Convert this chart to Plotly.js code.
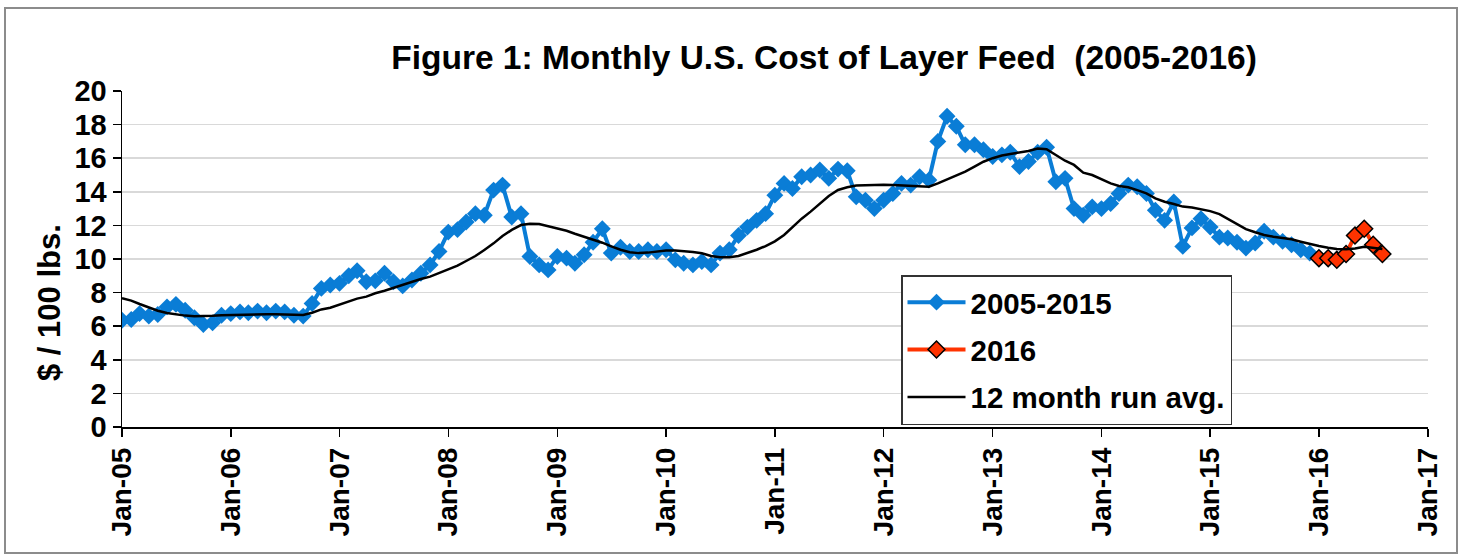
<!DOCTYPE html>
<html><head><meta charset="utf-8">
<script src="https://cdn.plot.ly/plotly-3.0.1.min.js"></script>
<style>html,body{margin:0;padding:0;background:#fff;} #chart{width:1463px;height:556px;}</style>
</head><body><div id="chart"></div>
<script>
// Monthly cost of layer feed ($ / 100 lbs.), Jan..Dec of each year
const feed2005 = [6.35, 6.4, 6.75, 6.6, 6.7, 7.15, 7.3, 6.95, 6.5, 6.1, 6.2, 6.65];
const feed2006 = [6.75, 6.85, 6.8, 6.9, 6.8, 6.9, 6.85, 6.65, 6.6, 7.35, 8.25, 8.45];
const feed2007 = [8.55, 9.0, 9.3, 8.65, 8.7, 9.15, 8.65, 8.4, 8.75, 9.15, 9.65, 10.45];
const feed2008 = [11.6, 11.75, 12.2, 12.7, 12.6, 14.1, 14.4, 12.5, 12.7, 10.15, 9.65, 9.35];
const feed2009 = [10.15, 10.05, 9.75, 10.25, 11.0, 11.8, 10.35, 10.7, 10.45, 10.45, 10.55, 10.45];
const feed2010 = [10.55, 9.95, 9.75, 9.65, 9.85, 9.65, 10.35, 10.55, 11.4, 11.9, 12.3, 12.7];
const feed2011 = [13.8, 14.5, 14.2, 14.9, 15.0, 15.3, 14.8, 15.35, 15.25, 13.7, 13.5, 13.0];
const feed2012 = [13.5, 13.9, 14.5, 14.4, 14.9, 14.7, 17.0, 18.5, 17.9, 16.8, 16.8, 16.5];
const feed2013 = [16.1, 16.2, 16.35, 15.5, 15.8, 16.35, 16.65, 14.6, 14.8, 13.0, 12.6, 13.1];
const feed2014 = [13.0, 13.3, 13.9, 14.4, 14.3, 13.9, 12.9, 12.3, 13.4, 10.75, 11.85, 12.4];
const feed2015 = [11.9, 11.3, 11.25, 11.0, 10.65, 10.95, 11.65, 11.3, 11.05, 10.85, 10.55, 10.35];
const feed2016 = [10.05, 10.05, 9.95, 10.3, 11.4, 11.8, 10.85, 10.3];

// 12 month running average
const avg2005 = [7.66, 7.52, 7.32, 7.12, 6.92, 6.79, 6.69, 6.63, 6.59, 6.59, 6.62, 6.65];
const avg2006 = [6.67, 6.69, 6.70, 6.71, 6.71, 6.71, 6.70, 6.67, 6.67, 6.80, 7.0, 7.1];
const avg2007 = [7.3, 7.46, 7.64, 7.76, 7.96, 8.11, 8.29, 8.45, 8.65, 8.81, 8.95, 9.15];
const avg2008 = [9.35, 9.6, 9.88, 10.18, 10.54, 10.93, 11.37, 11.73, 12.02, 12.1, 12.08, 11.96];
const avg2009 = [11.8, 11.68, 11.5, 11.33, 11.17, 10.97, 10.75, 10.55, 10.4, 10.35, 10.38, 10.46];
const avg2010 = [10.5, 10.5, 10.48, 10.42, 10.34, 10.18, 10.1, 10.1, 10.18, 10.34, 10.55, 10.77];
const avg2011 = [11.05, 11.43, 11.9, 12.4, 12.82, 13.31, 13.75, 14.11, 14.27, 14.37, 14.4, 14.42];
const avg2012 = [14.42, 14.4, 14.38, 14.37, 14.35, 14.3, 14.5, 14.74, 14.94, 15.2, 15.5, 15.79];
const avg2013 = [16.0, 16.16, 16.25, 16.33, 16.43, 16.57, 16.53, 16.19, 15.85, 15.6, 15.14, 15.0];
const avg2014 = [14.74, 14.5, 14.35, 14.27, 14.1, 13.91, 13.61, 13.41, 13.27, 13.12, 13.06, 12.95];
const avg2015 = [12.85, 12.67, 12.4, 12.07, 11.78, 11.59, 11.43, 11.33, 11.27, 11.17, 11.03, 10.89];
const avg2016 = [10.77, 10.67, 10.6, 10.58, 10.63, 10.73, 10.67, 10.6];

const seriesNames = ['2005-2015', '2016', '12 month run avg.'];
const chartTitle = 'Figure 1: Monthly U.S. Cost of Layer Feed  (2005-2016)';
const yTitle = '$ / 100 lbs.';

function monthDates(year, n) {
  const out = [];
  for (let i = 0; i < n; i++) out.push(year + '-' + String(i + 1).padStart(2, '0') + '-01');
  return out;
}
function join(startYear, arrays) {
  const x = [], y = [];
  arrays.forEach((a, i) => { x.push(...monthDates(startYear + i, a.length)); y.push(...a); });
  return {x, y};
}
const blue = join(2005, [feed2005, feed2006, feed2007, feed2008, feed2009, feed2010, feed2011, feed2012, feed2013, feed2014, feed2015]);
const red = join(2016, [feed2016]);
const avg = join(2005, [avg2005, avg2006, avg2007, avg2008, avg2009, avg2010, avg2011, avg2012, avg2013, avg2014, avg2015, avg2016]);

const FONT = 'Liberation Sans, Arial, sans-serif';
const W = 1463, H = 556, L = 122, R = 1428, T = 91, B = 427;
const px = v => (v - L) / (R - L);
const py = v => (B - v) / (B - T);

const traces = [
  {x: blue.x, y: blue.y, name: seriesNames[0], type: 'scatter', mode: 'lines+markers', legendgroup: 'a',
   line: {color: '#0A7DD6', width: 4}, marker: {symbol: 'diamond', size: 13, color: '#0A7DD6'}},
  {x: red.x, y: red.y, name: seriesNames[1], type: 'scatter', mode: 'lines+markers', legendgroup: 'b',
   line: {color: '#FF3300', width: 4}, marker: {symbol: 'diamond', size: 13, color: '#FF3300', line: {color: '#000', width: 1.5}}},
  {x: avg.x, y: avg.y, name: seriesNames[2], type: 'scatter', mode: 'lines', legendgroup: 'c',
   line: {color: '#000', width: 2.5}}
];

const layout = {
  width: W, height: H,
  margin: {l: L, r: W - R, t: T, b: H - B, pad: 0},
  paper_bgcolor: '#fff', plot_bgcolor: '#fff',
  font: {family: FONT, color: '#000'},
  title: {text: chartTitle, font: {family: FONT, size: 33.5, weight: 'bold', color: '#000'},
          xref: 'container', yref: 'container', x: 824 / W, y: 1 - 57 / H, xanchor: 'center', yanchor: 'middle'},
  xaxis: {type: 'date', range: ['2005-01-01', '2017-01-01'], dtick: 'M12', tick0: '2005-01-01', tickformat: '%b-%y',
          tickangle: -90, ticks: 'outside', ticklen: 8, tickwidth: 1.5, tickcolor: '#000',
          showline: true, linecolor: '#000', linewidth: 1.5, showgrid: false, zeroline: false,
          tickfont: {family: FONT, size: 28, weight: 'bold', color: '#000'}},
  yaxis: {range: [0, 20], dtick: 2, ticks: 'outside', ticklen: 8, tickwidth: 1.5, tickcolor: '#000',
          showline: true, linecolor: '#000', linewidth: 1.5, showgrid: true, gridcolor: '#D9D9D9', gridwidth: 1.5,
          zeroline: false, tickfont: {family: FONT, size: 29, weight: 'bold', color: '#000'}},
  showlegend: true,
  legend: {x: px(901), y: py(275), xanchor: 'left', yanchor: 'top', bgcolor: '#fff', bordercolor: '#333', borderwidth: 1.5,
           font: {family: FONT, size: 29.5, weight: 'bold', color: '#000'}, tracegroupgap: 6, traceorder: 'grouped',
           itemwidth: 58},
  annotations: [
    {text: yTitle, xref: 'paper', yref: 'paper', x: px(49), y: py(303), xanchor: 'center', yanchor: 'middle',
     textangle: -90, showarrow: false, font: {family: FONT, size: 31, weight: 'bold', color: '#000'}}
  ],
  shapes: [
    {type: 'rect', xref: 'paper', yref: 'paper', x0: px(5), x1: px(1457), y0: py(553), y1: py(8),
     line: {color: '#8C8C8C', width: 2}, fillcolor: 'rgba(0,0,0,0)', layer: 'below'}
  ]
};

Plotly.newPlot('chart', traces, layout, {displayModeBar: false, staticPlot: true});
</script>
</body></html>
